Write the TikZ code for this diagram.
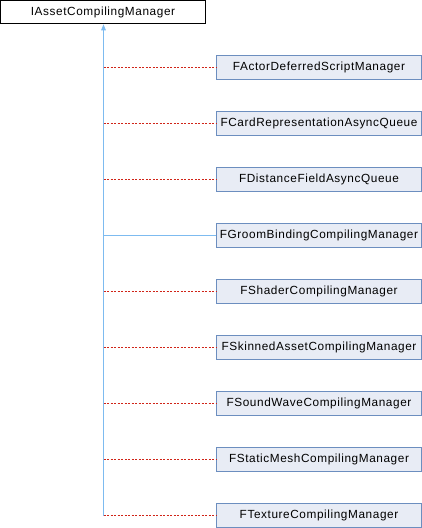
\documentclass[tikz,border=0pt]{standalone}
\usepackage{fontspec}
\setmainfont{Liberation Sans}[LetterSpace=5]
\usetikzlibrary{arrows.meta}
\definecolor{boxfill}{HTML}{E8ECF5}
\definecolor{boxdraw}{HTML}{6C8EBF}
\definecolor{pubedge}{HTML}{7DBBF0}
\definecolor{privedge}{HTML}{D02418}
\begin{document}
\begin{tikzpicture}[x=1pt,y=-1pt,
  base/.style={minimum width=205pt,minimum height=23.5pt,inner sep=0pt,font=\fontsize{11.8pt}{13pt}\selectfont},
  rootbox/.style={base,draw=black,fill=white,line width=1pt},
  childbox/.style={base,draw=boxdraw,fill=boxfill,line width=1pt},
  publine/.style={draw=pubedge,line width=1.1pt},
  privline/.style={draw=privedge,line width=1.1pt,dash pattern=on 2pt off 1.5pt}]
\useasboundingbox (0,0) rectangle (422,528);
\node[rootbox] (root) at (103,12) {IAssetCompilingManager};
\foreach \n/\t [count=\i from 0] in {
  a/FActorDeferredScriptManager,
  b/FCardRepresentationAsyncQueue,
  c/FDistanceFieldAsyncQueue,
  d/FGroomBindingCompilingManager,
  e/FShaderCompilingManager,
  f/FSkinnedAssetCompilingManager,
  g/FSoundWaveCompilingManager,
  h/FStaticMeshCompilingManager,
  k/FTextureCompilingManager}{
  \node[childbox] (\n) at (319,67.5+56*\i) {\t};
  \coordinate (j\n) at (103.5,67.5+56*\i);
}
\draw[publine,-{Triangle[width=4.5pt,length=6pt,fill=pubedge]}] (jk) -- (root.south -| jk);
\draw[publine] (jd) -- (d.west);
\foreach \n in {a,b,c,e,f,g,h,k}{
  \draw[privline] (j\n) -- (\n.west);
}
\end{tikzpicture}
\end{document}
